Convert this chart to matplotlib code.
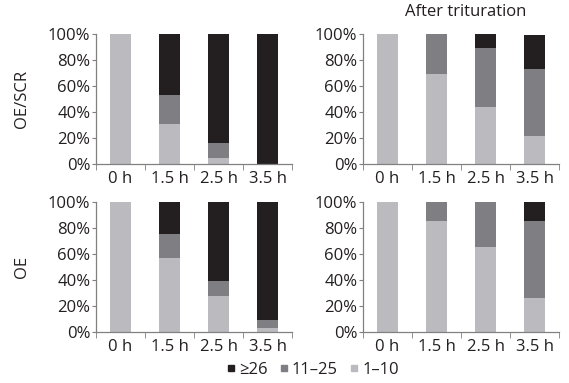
import matplotlib.pyplot as plt
import numpy as np
from matplotlib.lines import Line2D

# categories and data (percent of cells per size class)
hours = ['0 h', '1.5 h', '2.5 h', '3.5 h']
series_names = ['1\u201310', '11\u201325', '\u226526']

oescr_small = [100, 31, 4.5, 0]
oescr_mid = [0, 22, 11.5, 0]
oescr_big = [0, 47, 84, 100]

oescr_trit_small = [100, 69, 43.6, 21.5]
oescr_trit_mid = [0, 31, 45.6, 51.3]
oescr_trit_big = [0, 0, 10.8, 26.2]

oe_small = [100, 57, 27.4, 2.5]
oe_mid = [0, 18, 11.3, 6.2]
oe_big = [0, 25, 61.3, 91.3]

oe_trit_small = [100, 85.4, 64.8, 25.6]
oe_trit_mid = [0, 14.6, 35.2, 59.8]
oe_trit_big = [0, 0, 0, 14.6]

colors = ['#bbbbbf', '#7f7f83', '#231f20']

plt.rcParams['font.family'] = ['Open Sans', 'DejaVu Sans']
plt.rcParams['font.size'] = 12
text_col = '#231f20'

fig = plt.figure(figsize=(5.69, 3.83), dpi=100)

boxes = [
    [0.1687, 0.5718, 0.3445, 0.3394],
    [0.638, 0.5718, 0.3445, 0.3394],
    [0.1687, 0.134, 0.3445, 0.3394],
    [0.638, 0.134, 0.3445, 0.3394],
]
panels = [
    (oescr_small, oescr_mid, oescr_big),
    (oescr_trit_small, oescr_trit_mid, oescr_trit_big),
    (oe_small, oe_mid, oe_big),
    (oe_trit_small, oe_trit_mid, oe_trit_big),
]

x = np.arange(len(hours))
for box, vals in zip(boxes, panels):
    ax = fig.add_axes(box)
    bottom = np.zeros(len(hours))
    for v, c in zip(vals, colors):
        ax.bar(x, v, width=0.41, bottom=bottom, color=c, linewidth=0)
        bottom += np.array(v)
    ax.set_xlim(-0.5, 3.5)
    ax.set_ylim(0, 100)
    ax.set_xticks(x)
    ax.set_xticklabels(hours, color=text_col)
    ax.set_xticks(np.arange(-0.5, 4.0, 1.0), minor=True)
    ax.tick_params(axis='x', which='major', length=0, pad=5)
    ax.tick_params(axis='x', which='minor', length=4, direction='out', color='#808080')
    ax.set_yticks(range(0, 101, 20))
    ax.set_yticklabels([f'{t}%' for t in range(0, 101, 20)], color=text_col)
    ax.tick_params(axis='y', length=3, color='#808080', pad=1)
    for s in ['top', 'right']:
        ax.spines[s].set_visible(False)
    for s in ['left', 'bottom']:
        ax.spines[s].set_color('#808080')
        ax.spines[s].set_linewidth(0.9)

fig.text(22 / 569, 1 - 99 / 383, 'OE/SCR', rotation=90, ha='center', va='center', color=text_col)
fig.text(22 / 569, 1 - 267 / 383, 'OE', rotation=90, ha='center', va='center', color=text_col)
fig.text(466 / 569, 1 - 12 / 383, 'After trituration', ha='center', va='center', color=text_col)

handles = [Line2D([], [], marker='s', linestyle='none', markersize=5, color=c)
           for c in colors[::-1]]
fig.legend(handles, series_names[::-1], loc='center', bbox_to_anchor=(311 / 569, 1 - 370 / 383),
           ncol=3, frameon=False, handletextpad=0.05, columnspacing=0.5,
           handlelength=0.9, labelcolor=text_col)

plt.savefig('out.png', dpi=100)
